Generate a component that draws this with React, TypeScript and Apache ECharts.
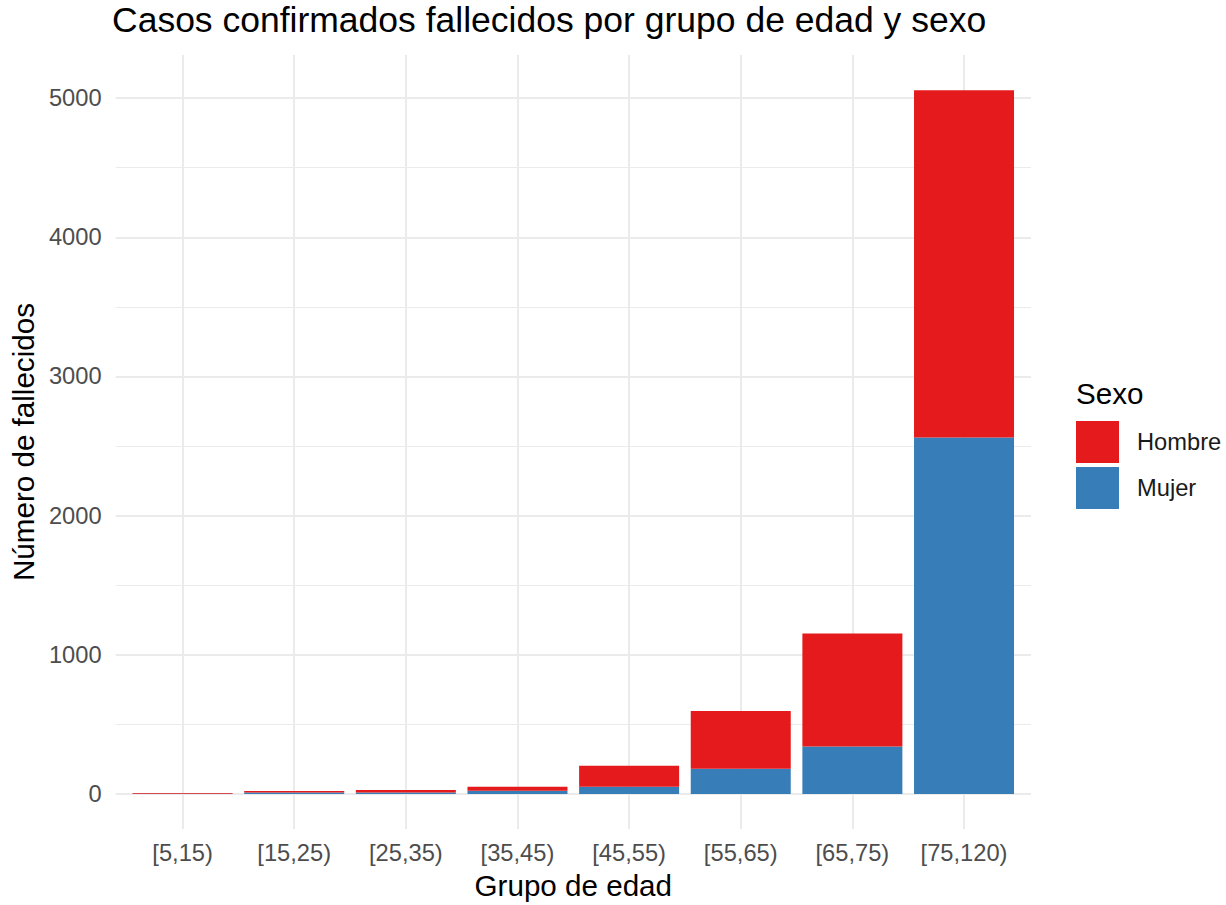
import React, { useEffect, useRef } from "react";
import * as echarts from "echarts";

const categories = ["[5,15)", "[15,25)", "[25,35)", "[35,45)", "[45,55)", "[55,65)", "[65,75)", "[75,120)"];
const mujer = [1, 10, 10, 22, 52, 181, 341, 2561];
const hombre = [5, 10, 18, 30, 150, 415, 811, 2496];
const yTicks = [0, 1000, 2000, 3000, 4000, 5000];
const yMinorTicks = [500, 1500, 2500, 3500, 4500];
const yMin = -253;
const yMax = 5310;
const xMin = 0.4;
const xMax = 8.6;

const FONT = "Liberation Sans";

export default function App() {
  const ref = useRef<HTMLDivElement>(null);
  useEffect(() => {
    if (!ref.current) return;
    const chart = echarts.init(ref.current, null, { renderer: "svg" });
    const xPos = categories.map((_, i) => i + 1);
    const gridLines: any[] = [
      ...yTicks.map((v) => ({ yAxis: v, lineStyle: { width: 2, color: "#ebebeb", type: "solid" } })),
      ...yMinorTicks.map((v) => ({ yAxis: v, lineStyle: { width: 1, color: "#ebebeb", type: "solid" } })),
      ...xPos.map((v) => ({ xAxis: v, lineStyle: { width: 2, color: "#ebebeb", type: "solid" } })),
    ];
    chart.setOption({
      animation: false,
      backgroundColor: "#ffffff",
      textStyle: { fontFamily: FONT },
      title: [
        {
          text: "Casos confirmados fallecidos por grupo de edad y sexo",
          left: 112,
          top: 2,
          padding: 0,
          textStyle: { fontSize: 35.5, fontWeight: "normal", color: "#000000", fontFamily: FONT },
        },
        {
          text: "Sexo",
          left: 1076,
          top: 378,
          padding: 0,
          textStyle: { fontSize: 29.6, fontWeight: "normal", color: "#000000", fontFamily: FONT },
        },
      ],
      legend: {
        data: ["Hombre", "Mujer"],
        orient: "vertical",
        left: 1076,
        top: 421,
        padding: 0,
        itemWidth: 43,
        itemHeight: 42,
        itemGap: 4,
        icon: "rect",
        selectedMode: false,
        textStyle: { fontSize: 23.7, color: "#1a1a1a", fontFamily: FONT, padding: [0, 0, 0, 13] },
      },
      grid: { left: 113, top: 55, width: 918, height: 778, containLabel: false },
      xAxis: {
        type: "value",
        min: xMin,
        max: xMax,
        name: "Grupo de edad",
        nameLocation: "middle",
        nameGap: 39,
        nameTextStyle: { fontSize: 29.6, color: "#000000", fontFamily: FONT },
        axisLine: { show: false },
        axisTick: { show: false },
        splitLine: { show: false },
        axisLabel: {
          customValues: xPos,
          formatter: (v: number) => {
            const i = Math.round(v) - 1;
            return Math.abs(v - Math.round(v)) < 1e-6 && categories[i] ? categories[i] : "";
          },
          fontSize: 23.7,
          color: "#4d4d4d",
          margin: 12,
          fontFamily: FONT,
        },
      },
      yAxis: {
        type: "value",
        min: yMin,
        max: yMax,
        name: "Número de fallecidos",
        nameLocation: "middle",
        nameGap: 74,
        nameTextStyle: { fontSize: 29.6, color: "#000000", fontFamily: FONT },
        axisLine: { show: false },
        axisTick: { show: false },
        splitLine: { show: false },
        axisLabel: {
          customValues: yTicks,
          formatter: (v: number) => (yTicks.indexOf(v) >= 0 ? String(v) : ""),
          fontSize: 23.7,
          color: "#4d4d4d",
          margin: 14,
          fontFamily: FONT,
        },
      },
      series: [
        {
          name: "Mujer",
          type: "bar",
          stack: "total",
          barWidth: 100,
          z: 3,
          itemStyle: { color: "#377EB8" },
          encode: { x: 1, y: 0 },
          data: xPos.map((x, i) => [mujer[i], x]),
          markLine: {
            silent: true,
            z: 1,
            symbol: ["none", "none"],
            label: { show: false },
            emphasis: { disabled: true },
            data: gridLines,
          },
        },
        {
          name: "Hombre",
          type: "bar",
          stack: "total",
          barWidth: 100,
          z: 3,
          itemStyle: { color: "#E41A1C" },
          encode: { x: 1, y: 0 },
          data: xPos.map((x, i) => [hombre[i], x]),
        },
      ],
    });
    return () => chart.dispose();
  }, []);
  return <div ref={ref} style={{ width: 1226, height: 905, position: "absolute", left: 0, top: 0 }} />;
}
